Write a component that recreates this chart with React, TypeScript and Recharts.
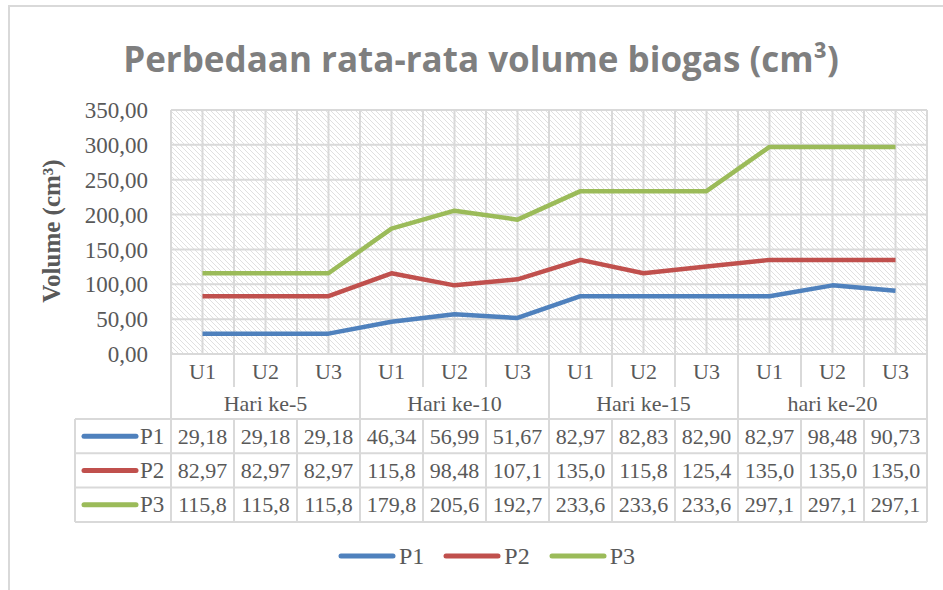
import { LineChart, Line, XAxis, YAxis, CartesianGrid, Legend } from 'recharts';

const CATS = ['U1', 'U2', 'U3', 'U1', 'U2', 'U3', 'U1', 'U2', 'U3', 'U1', 'U2', 'U3'];
const GROUPS = ['Hari ke-5', 'Hari ke-10', 'Hari ke-15', 'hari ke-20'];
const P1 = [29.18, 29.18, 29.18, 46.34, 56.99, 51.67, 82.97, 82.83, 82.9, 82.97, 98.48, 90.73];
const P2 = [82.97, 82.97, 82.97, 115.8, 98.48, 107.1, 135.0, 115.8, 125.4, 135.0, 135.0, 135.0];
const P3 = [115.8, 115.8, 115.8, 179.8, 205.6, 192.7, 233.6, 233.6, 233.6, 297.1, 297.1, 297.1];
const Y_TICKS = [0, 50, 100, 150, 200, 250, 300, 350];

const SERIES = [
  { key: 'P1', color: '#4F81BD', values: P1 },
  { key: 'P2', color: '#C0504D', values: P2 },
  { key: 'P3', color: '#9BBB59', values: P3 },
];

const data = CATS.map((u, i) => ({
  id: `${GROUPS[Math.floor(i / 3)]} ${u}`,
  P1: P1[i],
  P2: P2[i],
  P3: P3[i],
}));

const W = 943;
const H = 590;
const PLOT_L = 171;
const PLOT_R = 927;
const CAT_W = (PLOT_R - PLOT_L) / CATS.length;
const SERIF = '"Liberation Serif", serif';
const TXT = '#595959';
const LINE = '#d9d9d9';

const fmtTick = (v: number) => v.toFixed(2).replace('.', ',');
const fmtCell = (v: number) => (v >= 100 ? v.toFixed(1) : v.toFixed(2)).replace('.', ',');

function TableTick(props: any) {
  const { x, y } = props;
  const i = props.index ?? props.payload?.index ?? 0;
  const half = CAT_W / 2;
  const xl = x - half;
  const xr = x + half;
  const yG = y + 33;
  const yV = y + 65;
  const rowH = 34.3;
  const yEnd = yV + rowH * 3;
  const txt = { fontFamily: SERIF, fontSize: 22, fill: TXT, textAnchor: 'middle' as const, dominantBaseline: 'central' as const };
  const ln = { stroke: LINE, strokeWidth: 2 };
  return (
    <g>
      <text x={x} y={y + 17} {...txt}>{CATS[i]}</text>
      <line x1={xr} x2={xr} y1={y} y2={yG} {...ln} />
      {i % 3 === 2 && <line x1={xr} x2={xr} y1={yG} y2={yV} {...ln} />}
      <line x1={xr} x2={xr} y1={yV} y2={yEnd} {...ln} />
      {i % 3 === 1 && <text x={x} y={yG + 16} {...txt}>{GROUPS[Math.floor(i / 3)]}</text>}
      {[0, 1, 2, 3].map(r => (
        <line key={r} x1={xl} x2={xr} y1={yV + r * rowH} y2={yV + r * rowH} {...ln} />
      ))}
      {SERIES.map((s, r) => (
        <text key={s.key} x={x} y={yV + r * rowH + rowH / 2} {...txt}>{fmtCell(s.values[i])}</text>
      ))}
      {i === 0 && (
        <g>
          <line x1={xl} x2={xl} y1={y} y2={yEnd} {...ln} />
          <line x1={75} x2={75} y1={yV} y2={yEnd} {...ln} />
          {[0, 1, 2, 3].map(r => (
            <line key={r} x1={75} x2={xl} y1={yV + r * rowH} y2={yV + r * rowH} {...ln} />
          ))}
          {SERIES.map((s, r) => (
            <g key={s.key}>
              <line x1={84} x2={136} y1={yV + r * rowH + rowH / 2} y2={yV + r * rowH + rowH / 2}
                stroke={s.color} strokeWidth={5} strokeLinecap='round' />
              <text x={140} y={yV + r * rowH + rowH / 2} {...txt} fontSize={23} textAnchor='start'>{s.key}</text>
            </g>
          ))}
        </g>
      )}
    </g>
  );
}

function LegendContent(props: any) {
  const items = props.payload || [];
  return (
    <div style={{ display: 'flex', justifyContent: 'center', alignItems: 'center', height: 30, fontFamily: SERIF, fontSize: 24, color: TXT }}>
      {items.map((it: any, k: number) => (
        <div key={it.value} style={{ display: 'flex', alignItems: 'center', marginLeft: k ? 19 : 0 }}>
          <svg width={58} height={10}>
            <line x1={3} x2={55} y1={5} y2={5} stroke={it.color} strokeWidth={5} strokeLinecap='round' />
          </svg>
          <span style={{ marginLeft: 3 }}>{it.value}</span>
        </div>
      ))}
    </div>
  );
}

export default function App() {
  return (
    <div style={{ position: 'absolute', left: 0, top: 0, width: W, height: H, overflow: 'hidden', background: '#fff' }}>
      <svg width={0} height={0} style={{ position: 'absolute' }}>
        <defs>
          <pattern id='hatch' width={5} height={5} patternUnits='userSpaceOnUse'>
            <rect width={5} height={5} fill='#fff' />
            <path d='M0,0L5,5M-1,4L1,6M4,-1L6,1' stroke='#e0e0e0' strokeWidth={1} />
          </pattern>
        </defs>
      </svg>
      <div style={{ position: 'absolute', left: 8, top: 5, width: 1200, height: 1200, border: `2px solid ${LINE}`, boxSizing: 'border-box' }} />
      <LineChart width={W} height={H} data={data} margin={{ top: 110, right: W - PLOT_R, left: PLOT_L - 100, bottom: 38 }}>
        <CartesianGrid
          fill='url(#hatch)'
          stroke={LINE}
          strokeWidth={2}
          verticalCoordinatesGenerator={({ offset }: any) =>
            Array.from({ length: CATS.length * 2 + 1 }, (_, k) => offset.left + (k * offset.width) / (CATS.length * 2))}
        />
        <XAxis dataKey='id' interval={0} tickLine={false} axisLine={false} height={168} tickSize={0} tickMargin={0}
          padding={{ left: CAT_W / 2, right: CAT_W / 2 }} tick={(p: any) => <TableTick {...p} />} />
        <YAxis width={100} domain={[0, 350]} ticks={Y_TICKS} tickFormatter={fmtTick} tickLine={false} axisLine={false}
          tickSize={0} tickMargin={23} tick={{ fontFamily: SERIF, fontSize: 23, fill: TXT }} />
        {SERIES.map(s => (
          <Line key={s.key} type='linear' dataKey={s.key} stroke={s.color} strokeWidth={4.5} dot={false}
            strokeLinejoin='round' isAnimationActive={false} />
        ))}
        <Legend content={<LegendContent />} wrapperStyle={{ position: 'absolute', left: 30, top: 541, width: 913 }} />
      </LineChart>
      <svg width={W} height={H} style={{ position: 'absolute', left: 0, top: 0, pointerEvents: 'none' }}>
        <text x={481} y={72} textAnchor='middle' fontFamily='"Open Sans", sans-serif' fontWeight={700} fontSize={35} fill='#7f7f7f'>
          Perbedaan rata-rata volume biogas (cm³)
        </text>
        <text x={60} y={231} transform='rotate(-90 60 231)' textAnchor='middle' fontFamily={SERIF} fontWeight={700} fontSize={25} fill={TXT}>
          Volume (cm³)
        </text>
      </svg>
    </div>
  );
}
